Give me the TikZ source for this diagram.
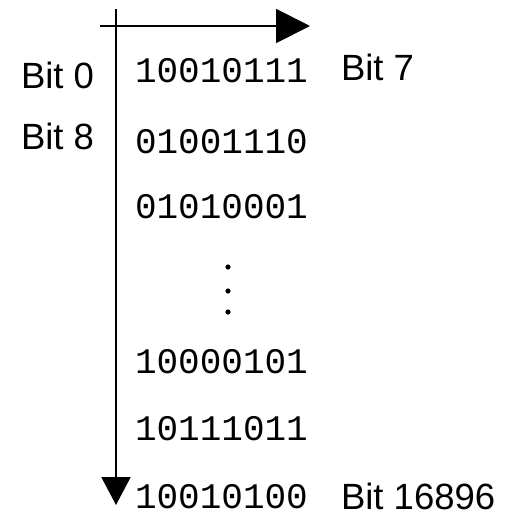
\documentclass[tikz,border=0pt]{standalone}
\usepackage{fontspec}
\setmainfont{Liberation Sans}
\setmonofont{Liberation Mono}
\usetikzlibrary{arrows.meta}

\tikzset{
  bits/.style={anchor=base west,inner sep=0pt,font=\fontsize{36}{40}\selectfont\ttfamily},
  bitlabel/.style={anchor=base west,inner sep=0pt,font=\fontsize{36.5}{40}\selectfont},
}

\begin{document}
\begin{tikzpicture}[x=1pt,y=-1pt,line width=2pt]
                        \useasboundingbox (0,0) rectangle (512,517);
                        \coordinate (xstart) at (100,26);
                        \coordinate (xend) at (310,26);
                        \coordinate (ystart) at (116,9);
                        \coordinate (yend) at (116,505);
                        \draw[-{Triangle[length=34pt,width=34pt]}] (xstart) -- (xend);
                        \draw[-{Triangle[length=28pt,width=29pt]}] (ystart) -- (yend);
                        % rows of bits
                        \node[bits] (row1) at (134,82) {10010111};
                        \node[bits] (row2) at (134,153) {01001110};
                        \node[bits] (row3) at (134,218) {01010001};
                        \node[bits] (row6) at (134,373) {10000101};
                        \node[bits] (row7) at (134,440) {10111011};
                        \node[bits] (row8) at (134,508) {10010100};
                        % dots
                        \fill (228,267) circle (2.6pt);
                        \fill (228,291) circle (2.6pt);
                        \fill (228,312) circle (2.6pt);
                        % labels
                        \node[bitlabel] (bit0) at (20,88) {Bit 0};
                        \node[bitlabel] (bit8) at (20,149) {Bit 8};
                        \node[bitlabel] (bit7) at (340,80) {Bit 7};
                        \node[bitlabel] (bitlast) at (340,509) {Bit 16896};
                    \end{tikzpicture}
\end{document}
